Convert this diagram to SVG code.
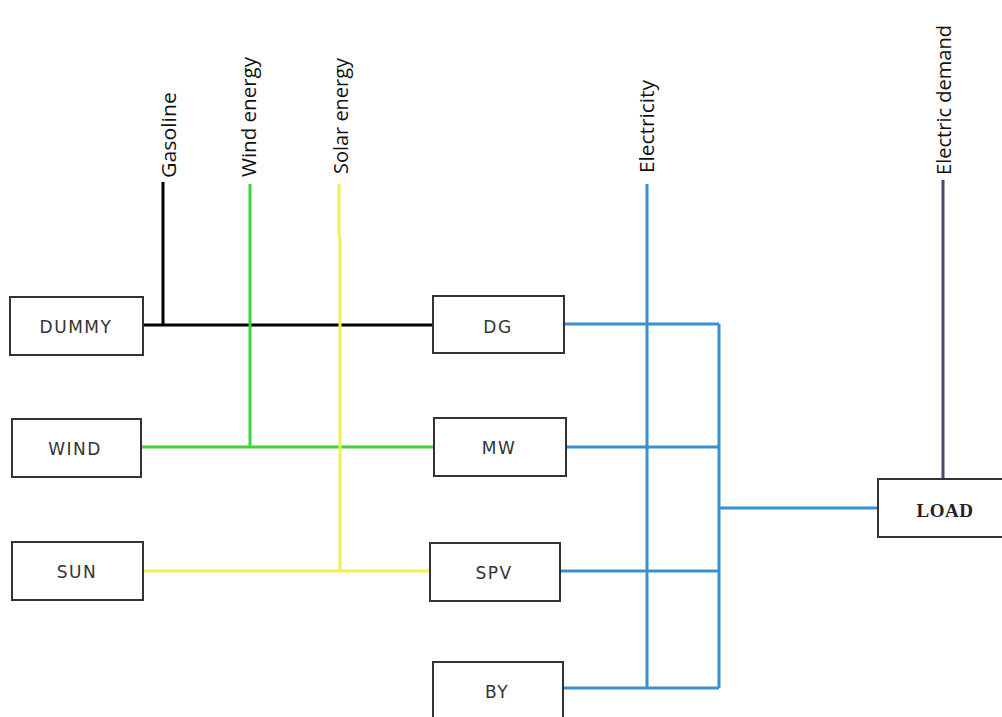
<svg xmlns="http://www.w3.org/2000/svg" width="1002" height="717" viewBox="0 0 1002 717">
<style>
.box{fill:#fff;stroke:#333;stroke-width:2}
.nt{font-family:"DejaVu Sans",sans-serif;font-size:17px;fill:#333;text-anchor:middle;letter-spacing:1.5px}
.lt{font-family:"Open Sans","Liberation Sans",sans-serif;font-size:20px;fill:#111}
.ln{fill:none;stroke-width:3}
.k{stroke:#000}.g{stroke:#3ed43e}.y{stroke:#f0f050}.b{stroke:#3a8fd0}.p{stroke:#4b4a78}
</style>
<rect width="1002" height="717" fill="#fff"/>
<g id="connectors">
<path class="ln k" d="M163 182V325M143 325H433"/>
<path class="ln g" d="M250 184V447M141 447H434"/>
<path class="ln y" d="M339 184V237M340 237V571M143 571H430"/>
<path class="ln b" d="M647 184V688M719 324V688M564 324H719M566 447H719M560 571H719M563 688H719M719 508H878"/>
<path class="ln p" d="M943 180V479"/>
</g>
<g id="labels">
<text class="lt" transform="translate(176,178) rotate(-90)" textLength="86" lengthAdjust="spacingAndGlyphs">Gasoline</text>
<text class="lt" transform="translate(256,177) rotate(-90)" textLength="120" lengthAdjust="spacingAndGlyphs">Wind energy</text>
<text class="lt" transform="translate(348,174) rotate(-90)" textLength="116" lengthAdjust="spacingAndGlyphs">Solar energy</text>
<text class="lt" transform="translate(654,173) rotate(-90)" textLength="93" lengthAdjust="spacingAndGlyphs">Electricity</text>
<text class="lt" transform="translate(951,175) rotate(-90)" textLength="150" lengthAdjust="spacingAndGlyphs">Electric demand</text>
</g>
<g id="dummy"><rect class="box" x="10" y="297" width="133" height="58"/><text class="nt" x="76" y="333">DUMMY</text></g>
<g id="wind"><rect class="box" x="12" y="419" width="129" height="58"/><text class="nt" x="75" y="455">WIND</text></g>
<g id="sun"><rect class="box" x="12" y="542" width="131" height="58"/><text class="nt" x="77" y="578">SUN</text></g>
<g id="dg"><rect class="box" x="433" y="296" width="131" height="57"/><text class="nt" x="498" y="333">DG</text></g>
<g id="mw"><rect class="box" x="434" y="418" width="132" height="58"/><text class="nt" x="499" y="454">MW</text></g>
<g id="spv"><rect class="box" x="430" y="543" width="130" height="58"/><text class="nt" x="494" y="579">SPV</text></g>
<g id="by"><rect class="box" x="433" y="662" width="130" height="62"/><text class="nt" x="497" y="698">BY</text></g>
<g id="load"><rect class="box" x="878" y="479" width="130" height="58"/><text x="945" y="517" text-anchor="middle" font-family="Liberation Serif,serif" font-size="19" font-weight="bold" fill="#222" letter-spacing="0.5">LOAD</text></g>
</svg>
